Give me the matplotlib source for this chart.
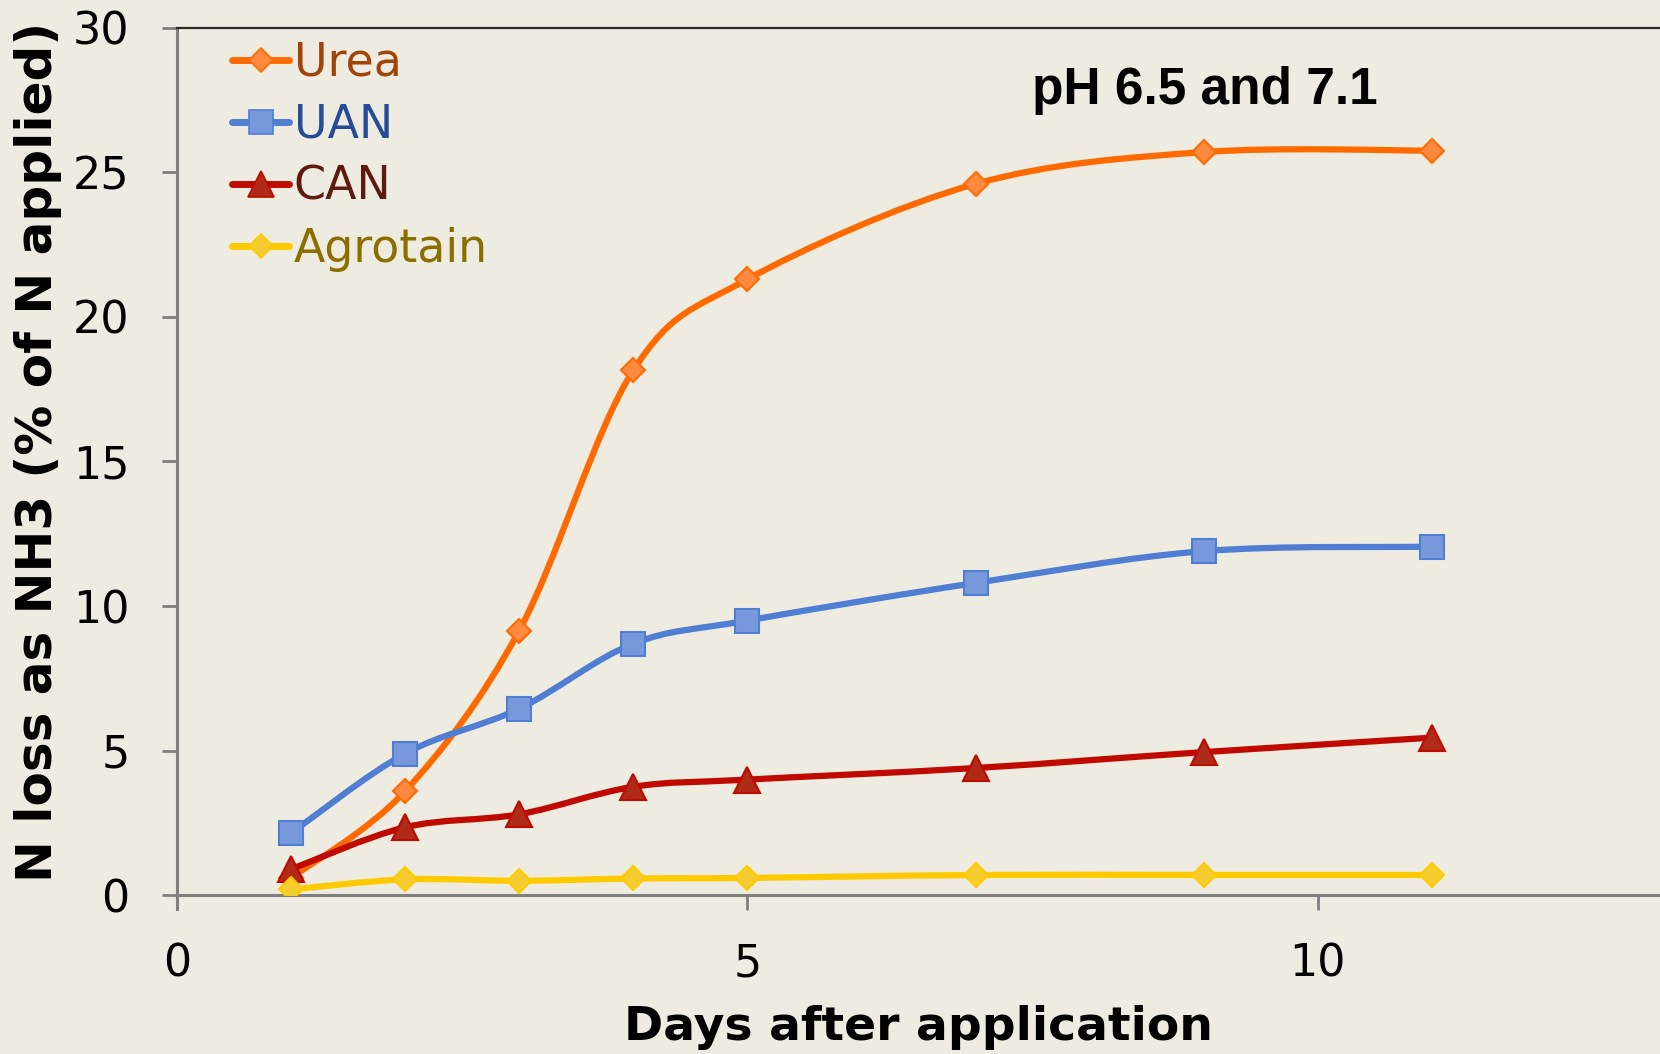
import numpy as np
import matplotlib
matplotlib.use("Agg")
import matplotlib.pyplot as plt
from matplotlib.path import Path
from matplotlib.patches import PathPatch
from matplotlib.lines import Line2D

days = [1, 2, 3, 4, 5, 7, 9, 11]
urea = [0.6, 3.6, 9.15, 18.15, 21.3, 24.6, 25.7, 25.75]
uan = [2.15, 4.9, 6.45, 8.7, 9.5, 10.8, 11.9, 12.05]
can = [0.9, 2.35, 2.8, 3.75, 4.0, 4.4, 4.95, 5.45]
agrotain = [0.2, 0.55, 0.5, 0.58, 0.6, 0.7, 0.7, 0.7]
series_names = ["Urea", "UAN", "CAN", "Agrotain"]
x_ticks = [0, 5, 10]
y_ticks = [0, 5, 10, 15, 20, 25, 30]

BG = "#EEEBE1"
styles = {
    "Urea": dict(line="#FF6A00", face="#FF8A3D", edge="#FF6A00", marker="D", ms=12, text="#A0440A"),
    "UAN": dict(line="#4F7ED3", face="#7799DB", edge="#4F7ED3", marker="s", ms=17, text="#264C99"),
    "CAN": dict(line="#BE0A00", face="#B02A18", edge="#BE0A00", marker="^", ms=19, text="#5E1A0E"),
    "Agrotain": dict(line="#FFCA00", face="#F5CC30", edge="#FFCA00", marker="D", ms=12, text="#8A6E00"),
}

fig = plt.figure(figsize=(16.6, 10.54), dpi=100, facecolor=BG)
ax = fig.add_axes([0.1066, 0.1506, 0.8934, 0.8231])
ax.set_facecolor(BG)
ax.set_xlim(0, 13)
ax.set_ylim(0, 30)


def smooth_path(xs, ys):
    # Excel-like smoothed line: cubic Bezier with Catmull-Rom control points (display space)
    pts = ax.transData.transform(np.column_stack([xs, ys]))
    n = len(pts)
    verts = [pts[0]]
    codes = [Path.MOVETO]
    for i in range(n - 1):
        p0 = pts[i - 1] if i > 0 else pts[i]
        p1 = pts[i]
        p2 = pts[i + 1]
        p3 = pts[i + 2] if i + 2 < n else pts[i + 1]
        c1 = p1 + (p2 - p0) / 6.0
        c2 = p2 - (p3 - p1) / 6.0
        verts += [c1, c2, p2]
        codes += [Path.CURVE4] * 3
    return Path(verts, codes)


data = {"Urea": urea, "UAN": uan, "CAN": can, "Agrotain": agrotain}
handles = []
for name in series_names:
    st = styles[name]
    ys = data[name]
    path = smooth_path(days, ys)
    patch = PathPatch(path, transform=None, facecolor="none", edgecolor=st["line"],
                      lw=4.5, capstyle="round", joinstyle="round", zorder=3)
    ax.add_patch(patch)
    ax.plot(days, ys, linestyle="none", marker=st["marker"], ms=st["ms"],
            markerfacecolor=st["face"], markeredgecolor=st["edge"], markeredgewidth=1.5, zorder=4)
    handles.append(Line2D([0], [0], color=st["line"], lw=5, marker=st["marker"],
                          ms=st["ms"], markerfacecolor=st["face"],
                          markeredgecolor=st["edge"], markeredgewidth=1.2,
                          solid_capstyle="round"))

leg = ax.legend(handles, series_names, loc="upper left", bbox_to_anchor=(0.034, 0.99),
                frameon=False, fontsize=33, handlelength=1.25, handletextpad=0.1,
                labelspacing=0.37, borderaxespad=0.0, borderpad=0.1)
for txt, name in zip(leg.get_texts(), series_names):
    txt.set_color(styles[name]["text"])

ax.text(0.5765, 0.9116, "pH 6.5 and 7.1", transform=ax.transAxes, fontsize=37,
        fontweight="bold", family="Liberation Sans", color="black", ha="left", va="baseline")

ax.set_xticks(x_ticks)
ax.set_yticks(y_ticks)
ax.tick_params(axis="both", labelsize=32, colors="#7F7F7F", labelcolor="black",
               width=2, length=11, direction="out", pad=23)

for side in ["left", "bottom"]:
    ax.spines[side].set_color("#7F7F7F")
    ax.spines[side].set_linewidth(2.2)
ax.spines["top"].set_color("#2A2A2A")
ax.spines["top"].set_linewidth(1.6)
ax.spines["right"].set_visible(False)
ax.plot([0, 0], [0, -0.016], transform=ax.transAxes, color="#7F7F7F", lw=2.2,
        clip_on=False, zorder=5)

ax.set_xlabel("Days after application", fontsize=34, fontweight="bold")
ax.xaxis.set_label_coords(0.5, -0.126)
ax.set_ylabel("N loss as NH3 (% of N applied)", fontsize=36, fontweight="bold")
ax.yaxis.set_label_coords(-0.0775, 0.511)

fig.savefig("out.png", dpi=100, facecolor=BG)
